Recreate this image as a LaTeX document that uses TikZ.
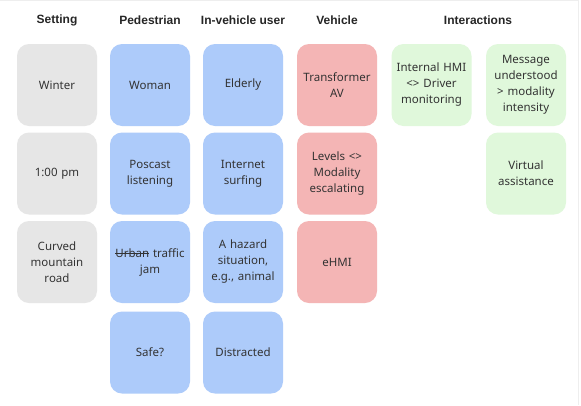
\documentclass[tikz,border=0pt]{standalone}
\usepackage{fontspec}
\setmainfont{Noto Sans}
\newfontfamily\hdrfont{Liberation Sans}
\definecolor{cgrey}{HTML}{E6E6E6}
\definecolor{cblue}{HTML}{ADCBFA}
\definecolor{cred}{HTML}{F4B5B5}
\definecolor{cgreen}{HTML}{E0F8DB}
\definecolor{ctext}{HTML}{333333}
\definecolor{cframe}{HTML}{EEEEEE}
\newcommand\mystrike[1]{\setbox0\hbox{#1}\rlap{\rule[0.55ex]{\wd0}{0.6pt}}\box0}
\begin{document}
\begin{tikzpicture}[x=1pt,y=-1pt,
  card/.style={rounded corners=12pt, minimum width=80pt, minimum height=82pt,
    inner sep=0pt, align=center, text width=76pt, text=ctext,
    font=\fontsize{11.5}{16}\selectfont},
  greycard/.style={card, fill=cgrey},
  bluecard/.style={card, fill=cblue},
  redcard/.style={card, fill=cred},
  greencard/.style={card, fill=cgreen},
  hdr/.style={font=\hdrfont\bfseries\fontsize{12}{14}\selectfont, text=black!85, inner sep=0pt}]
\useasboundingbox (0,0) rectangle (581,405);
\fill[white] (0,0) rectangle (581,405);
\draw[cframe, line width=1pt] (0,0.5) -- (578.5,0.5) -- (578.5,405);
% headers
\node[hdr] (hset) at (57,20) {Setting};
\node[hdr] (hped) at (150,20) {Pedestrian};
\node[hdr] (hiv) at (243,20) {In-vehicle user};
\node[hdr] (hveh) at (337,20) {Vehicle};
\node[hdr] (hint) at (478,20) {Interactions};
% setting
\node[greycard] (s1) at (57,85) {Winter};
\node[greycard] (s2) at (57,173.5) {1:00 pm};
\node[greycard] (s3) at (57,262) {Curved\\mountain\\road};
% pedestrian
\node[bluecard] (p1) at (150,85) {Woman};
\node[bluecard] (p2) at (150,173.5) {Poscast\\listening};
\node[bluecard] (p3) at (150,262) {\mystrike{Urban}\ traffic\\jam};
\node[bluecard] (p4) at (150,352.5) {Safe?};
% in-vehicle
\node[bluecard] (u1) at (243,85) {Elderly};
\node[bluecard] (u2) at (243,173.5) {Internet\\surfing};
\node[bluecard] (u3) at (243,262) {A hazard\\situation,\\e.g., animal};
\node[bluecard] (u4) at (243,352.5) {Distracted};
% vehicle
\node[redcard] (v1) at (337,85) {Transformer\\AV};
\node[redcard] (v2) at (337,173.5) {Levels <>\\Modality\\escalating};
\node[redcard] (v3) at (337,262) {eHMI};
% interactions
\node[greencard] (i1) at (431.5,85) {Internal HMI\\<> Driver\\monitoring};
\node[greencard] (i2) at (526,85) {Message\\understood\\> modality\\intensity};
\node[greencard] (i3) at (526,173.5) {Virtual\\assistance};
\end{tikzpicture}
\end{document}
